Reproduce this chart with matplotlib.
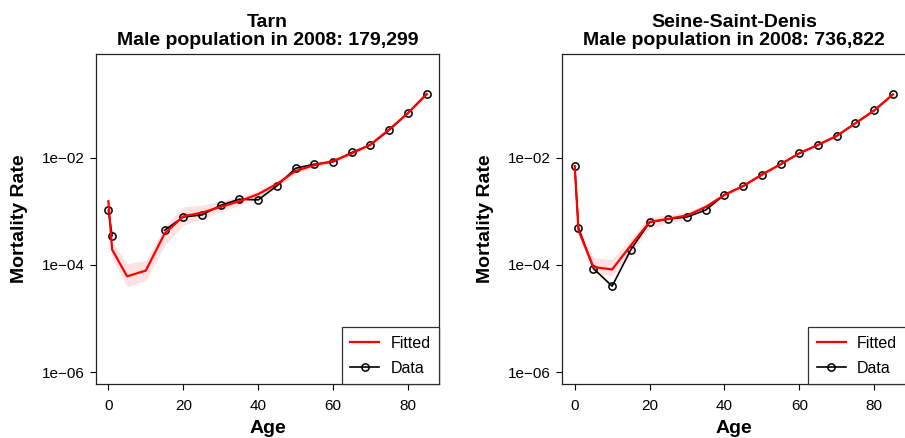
import numpy as np
import matplotlib
matplotlib.use("Agg")
import matplotlib.pyplot as plt

plt.rcParams['font.family'] = ['Liberation Sans', 'DejaVu Sans']

# age groups (start of each band)
ages = [0, 1, 5, 10, 15, 20, 25, 30, 35, 40, 45, 50, 55, 60, 65, 70, 75, 80, 85]

# Tarn
tarn_title = "Tarn\nMale population in 2008: 179,299"
tarn_obs = [1.03e-3, 3.5e-4, np.nan, np.nan, 4.4e-4, 7.8e-4, 8.5e-4, 1.29e-3, 1.67e-3, 1.62e-3,
            2.95e-3, 6.3e-3, 7.5e-3, 8.3e-3, 1.24e-2, 1.72e-2, 3.24e-2, 6.7e-2, 1.54e-1]
tarn_fit = [1.53e-3, 1.92e-4, 6.1e-5, 7.8e-5, 3.8e-4, 8.0e-4, 9.4e-4, 1.2e-3, 1.53e-3, 2.07e-3,
            3.2e-3, 5.6e-3, 7.2e-3, 8.6e-3, 1.19e-2, 1.74e-2, 3.33e-2, 6.7e-2, 1.5e-1]
tarn_lo = [1.08e-3, 1.36e-4, 3.9e-5, 5.1e-5, 2.3e-4, 5.5e-4, 7.2e-4, 9.8e-4, 1.27e-3, 1.76e-3,
           2.79e-3, 5.0e-3, 6.4e-3, 7.9e-3, 1.08e-2, 1.62e-2, 3.11e-2, 6.4e-2, 1.43e-1]
tarn_hi = [2.16e-3, 2.71e-4, 1.05e-4, 1.2e-4, 5.1e-4, 1.2e-3, 1.29e-3, 1.55e-3, 1.84e-3, 2.43e-3,
           3.67e-3, 6.3e-3, 8.1e-3, 9.4e-3, 1.3e-2, 1.86e-2, 3.57e-2, 7.0e-2, 1.57e-1]

# Seine-Saint-Denis
ssd_title = "Seine-Saint-Denis\nMale population in 2008: 736,822"
ssd_obs = [6.98e-3, 4.9e-4, 8.5e-5, 4.0e-5, 1.92e-4, 6.2e-4, 7.1e-4, 7.8e-4, 1.05e-3, 2.04e-3,
           2.92e-3, 4.8e-3, 7.5e-3, 1.2e-2, 1.72e-2, 2.53e-2, 4.36e-2, 7.53e-2, 1.5e-1]
ssd_fit = [6.8e-3, 4.4e-4, 9.1e-5, 8.2e-5, 2.31e-4, 6.3e-4, 7.2e-4, 8.3e-4, 1.2e-3, 2.0e-3,
           2.95e-3, 4.8e-3, 7.5e-3, 1.2e-2, 1.72e-2, 2.53e-2, 4.36e-2, 7.53e-2, 1.5e-1]
ssd_lo = [6.35e-3, 3.66e-4, 6.9e-5, 6.3e-5, 1.62e-4, 4.8e-4, 6.1e-4, 7.2e-4, 1.07e-3, 1.82e-3,
          2.75e-3, 4.48e-3, 7.16e-3, 1.15e-2, 1.64e-2, 2.42e-2, 4.16e-2, 7.19e-2, 1.43e-1]
ssd_hi = [7.29e-3, 5.3e-4, 1.36e-4, 1.26e-4, 3.1e-4, 7.8e-4, 8.5e-4, 9.5e-4, 1.35e-3, 2.19e-3,
          3.16e-3, 5.14e-3, 7.85e-3, 1.26e-2, 1.8e-2, 2.65e-2, 4.57e-2, 7.89e-2, 1.57e-1]

xticks = [0, 20, 40, 60, 80]
yticks = [1e-6, 1e-4, 1e-2]
ytick_labels = ["1e\u221206", "1e\u221204", "1e\u221202"]

fig = plt.figure(figsize=(9.05, 4.38), dpi=100)
ax_left = fig.add_axes([0.1057, 0.1226, 0.3797, 0.7541])
ax_right = fig.add_axes([0.6210, 0.1226, 0.3797, 0.7541])

panels = [
    (ax_left, tarn_title, tarn_obs, tarn_fit, tarn_lo, tarn_hi),
    (ax_right, ssd_title, ssd_obs, ssd_fit, ssd_lo, ssd_hi),
]

for ax, title, obs, fit, lo, hi in panels:
    # confidence band, fitted curve, then the observed rates
    ax.fill_between(ages, lo, hi, color='#fde1e3', linewidth=0, zorder=1)
    ax.plot(ages, fit, color='red', linewidth=1.6, zorder=3, label='Fitted')
    ax.plot(ages, obs, color='black', linewidth=1.2, marker='o', markersize=5.2,
            markerfacecolor='none', markeredgewidth=1.1, zorder=2, label='Data')

    ax.set_yscale('log')
    ax.set_xlim(-3.4, 88.4)
    ax.set_ylim(10 ** -6.227, 10 ** -0.071)
    ax.set_xticks(xticks)
    ax.set_yticks(yticks)
    ax.set_yticklabels(ytick_labels)
    ax.minorticks_off()
    ax.tick_params(axis='both', labelsize=11, length=4.3, width=0.8, direction='out')
    ax.tick_params(axis='x', pad=6)
    ax.tick_params(axis='y', pad=3.5)
    for s in ax.spines.values():
        s.set_linewidth(0.9)
        s.set_color('#222222')

    ax.set_title(title, fontsize=14, fontweight='bold', pad=6.5, linespacing=1.08)
    ax.set_xlabel("Age", fontsize=14, fontweight='bold', va='top')
    ax.set_ylabel("Mortality Rate", fontsize=14, fontweight='bold')
    ax.xaxis.set_label_coords(0.5, -0.107)
    ax.yaxis.set_label_coords(-0.197, 0.5)

    leg = ax.legend(loc='lower right', borderaxespad=0, fancybox=False, fontsize=11.5,
                    handlelength=1.8, handletextpad=0.7, labelspacing=0.6, borderpad=0.55,
                    framealpha=1)
    leg.get_frame().set_edgecolor('#333333')
    leg.get_frame().set_linewidth(0.9)

plt.savefig('out.png', dpi=100)
plt.close()
